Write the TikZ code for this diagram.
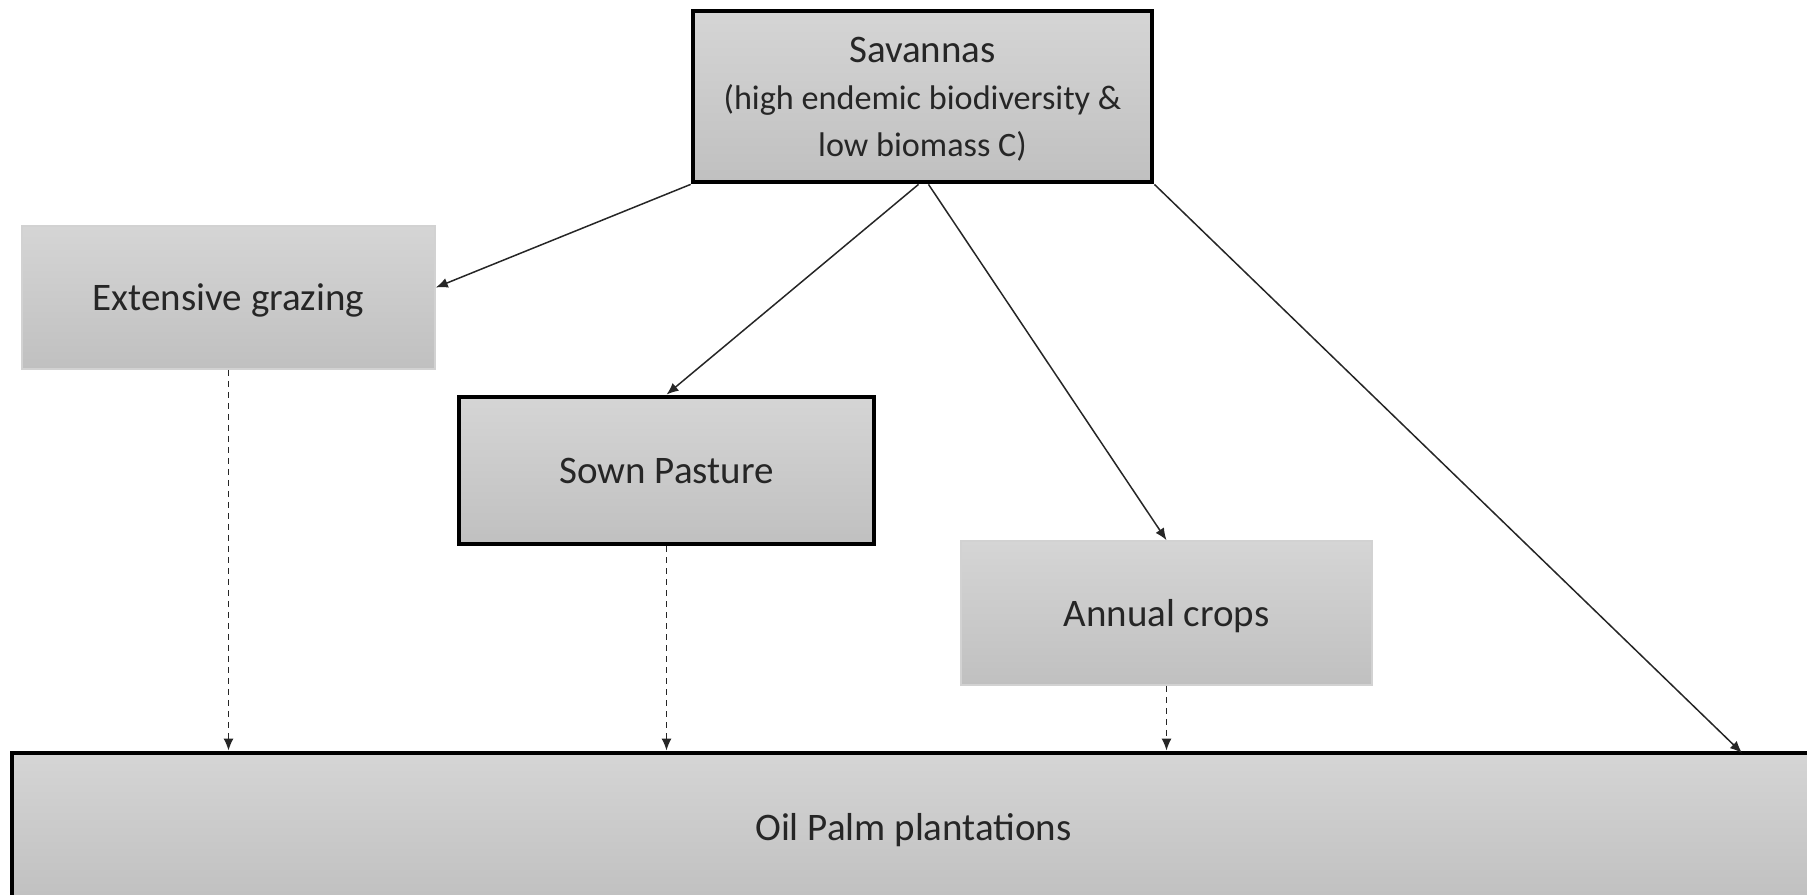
\documentclass[tikz,border=0pt]{standalone}
\usepackage{fontspec}
\setmainfont{Carlito}
\usetikzlibrary{arrows.meta}

\definecolor{boxtop}{HTML}{D5D5D5}
\definecolor{boxbottom}{HTML}{C0C0C0}
\definecolor{textgray}{HTML}{262626}

\begin{document}
\begin{tikzpicture}[x=0.5pt, y=-0.5pt]

% Box styles (one pixel of the drawing is half a point)
\tikzset{landbox/.style={
        rectangle, top color=boxtop, bottom color=boxbottom,
        text=textgray, align=center, inner sep=0pt, text depth=0pt,
        font=\fontsize{19.5}{23}\selectfont},
    strongbox/.style={landbox, draw=black, line width=2.4pt},
    softbox/.style={landbox, draw=gray!35, line width=0.8pt},
    flow/.style={draw=black!85, line width=0.75pt, -{Latex[length=6pt, width=5pt]}},
    laterflow/.style={flow, dash pattern=on 3pt off 2.5pt}
    }

% Page size as in the drawing
\useasboundingbox (0,0) rectangle (1807,894);
\clip (0,0) rectangle (1807,894);

% Land-use boxes
\node[strongbox, minimum width=229.5pt, minimum height=85.5pt, font=\fontsize{17.1}{23.5}\selectfont]
    (savanna) at (922.5,96.5)
    {{\fontsize{19.5}{23.5}\selectfont Savannas}\\(high endemic biodiversity \&\\low biomass C)};
\node[softbox, minimum width=206.5pt, minimum height=71.5pt] (grazing) at (228.5,297.5) {Extensive grazing};
\node[strongbox, minimum width=207.5pt, minimum height=73.5pt] (sown) at (666.5,470.5) {Sown Pasture};
\node[softbox, minimum width=205.5pt, minimum height=72pt] (annual) at (1166.5,613) {Annual crops};
\node[strongbox, minimum width=901.5pt, minimum height=74pt] (palm) at (913.5,827) {Oil Palm plantations};

% Where the direct arrow meets the plantations
\coordinate (hit) at (1742,753);

% Direct conversions from savanna
\draw[flow] (savanna.south west) -- ([yshift=5pt]grazing.east);
\draw[flow] ([xshift=-2pt]savanna.south) -- (sown.north);
\draw[flow] ([xshift=3pt]savanna.south) -- (annual.north);
\draw[flow] (savanna.south east) -- (hit);

% Later conversions to oil palm
\draw[laterflow] (grazing.south) -- (grazing.south |- palm.north);
\draw[laterflow] (sown.south) -- (sown.south |- palm.north);
\draw[laterflow] (annual.south) -- (annual.south |- palm.north);

\end{tikzpicture}
\end{document}
